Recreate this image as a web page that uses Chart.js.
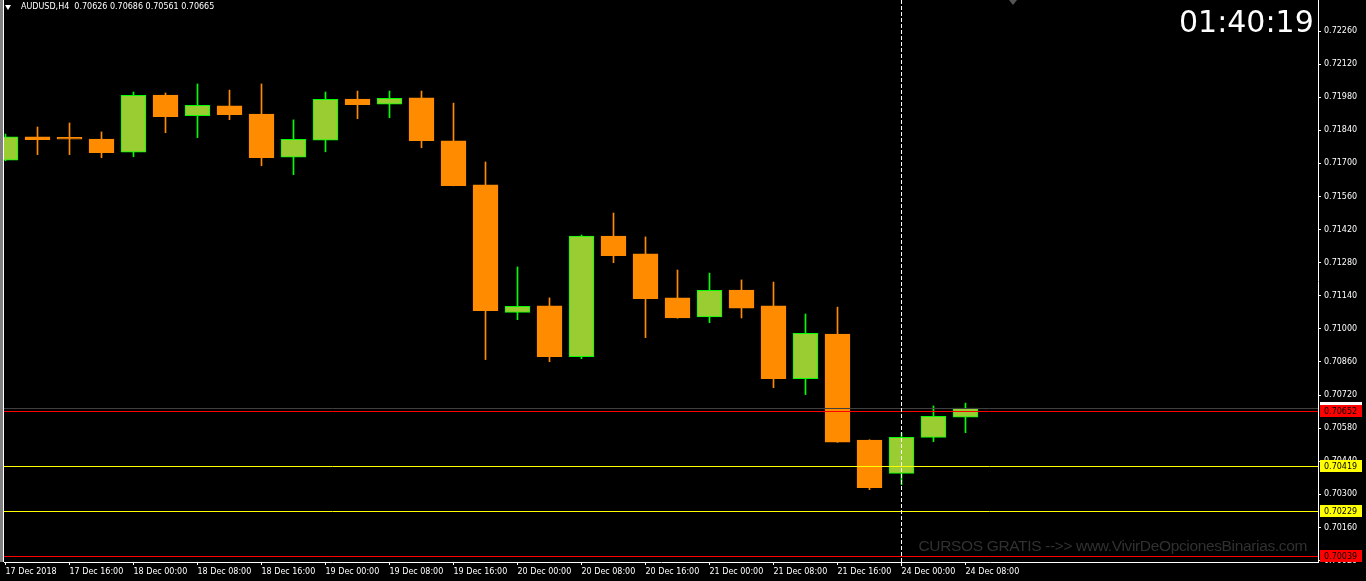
<!DOCTYPE html>
<html>
<head>
<meta charset="utf-8">
<script src="https://cdn.jsdelivr.net/npm/chart.js@4.4.0/dist/chart.umd.min.js"></script>
<style>
html, body { margin: 0; padding: 0; background: #000; overflow: hidden; }
#wrap { position: relative; width: 1366px; height: 581px; }
#chart { position: absolute; left: 0; top: 0; width: 1366px !important; height: 581px !important; }
#header { position: absolute; left: 21px; top: 3px; font: 8px "DejaVu Sans"; line-height: 8px; color: #fff; white-space: pre; }
#arrow { position: absolute; left: 5px; top: 5px; width: 0; height: 0;
  border-left: 3.5px solid transparent; border-right: 3.5px solid transparent; border-top: 5px solid #fff; }
#shift { position: absolute; left: 1009px; top: 0; width: 0; height: 0;
  border-left: 4px solid transparent; border-right: 4px solid transparent; border-top: 5px solid #555; }
#clock { position: absolute; left: 1179px; top: 7px; font: 30px "DejaVu Sans"; line-height: 30px; color: #fff; }
#mark { position: absolute; right: 59px; top: 537px; font: 15.5px "Liberation Sans"; letter-spacing: -0.35px;
  line-height: 18px; color: #313131; white-space: pre; }
</style>
</head>
<body>
<div id="wrap">
  <canvas id="chart"></canvas>
  <div id="arrow"></div>
  <div id="header"></div>
  <div id="shift"></div>
  <div id="clock">01:40:19</div>
  <div id="mark">CURSOS GRATIS --&gt;&gt; www.VivirDeOpcionesBinarias.com</div>
</div>
<script>
const SYMBOL = "AUDUSD,H4";
const TIME_LABELS = ["17 Dec 2018", "17 Dec 16:00", "18 Dec 00:00", "18 Dec 08:00", "18 Dec 16:00",
  "19 Dec 00:00", "19 Dec 08:00", "19 Dec 16:00", "20 Dec 00:00", "20 Dec 08:00", "20 Dec 16:00",
  "21 Dec 00:00", "21 Dec 08:00", "21 Dec 16:00", "24 Dec 00:00", "24 Dec 08:00"];
const TICK_INDEX = [0, 2, 4, 6, 8, 10, 12, 14, 16, 18, 20, 22, 24, 26, 28, 30];

const OPEN  = [0.71714, 0.71812, 0.71804, 0.71803, 0.71747, 0.71989, 0.71902, 0.71943, 0.71909, 0.71726,
  0.71798, 0.71972, 0.71950, 0.71977, 0.71795, 0.71609, 0.71070, 0.71097, 0.70882, 0.71393,
  0.71317, 0.71131, 0.71051, 0.71164, 0.71097, 0.70789, 0.70978, 0.70530, 0.70389, 0.70541, 0.70626];
const HIGH  = [0.71824, 0.71854, 0.71871, 0.71833, 0.72002, 0.71998, 0.72036, 0.72010, 0.72036, 0.71884,
  0.72002, 0.72006, 0.72006, 0.72006, 0.71955, 0.71706, 0.71262, 0.71131, 0.71397, 0.71490,
  0.71389, 0.71249, 0.71236, 0.71207, 0.71198, 0.71063, 0.71092, 0.70531, 0.70560, 0.70674, 0.70686];
const LOW   = [0.71711, 0.71737, 0.71737, 0.71724, 0.71728, 0.71830, 0.71809, 0.71885, 0.71690, 0.71652,
  0.71749, 0.71889, 0.71893, 0.71766, 0.71605, 0.70870, 0.71039, 0.70861, 0.70874, 0.71280,
  0.70963, 0.71045, 0.71026, 0.71046, 0.70751, 0.70722, 0.70520, 0.70320, 0.70341, 0.70523, 0.70561];
const CLOSE = [0.71812, 0.71800, 0.71802, 0.71745, 0.71988, 0.71898, 0.71946, 0.71906, 0.71724, 0.71802,
  0.71971, 0.71948, 0.71975, 0.71796, 0.71606, 0.71077, 0.71095, 0.70882, 0.71392, 0.71310,
  0.71128, 0.71046, 0.71163, 0.71088, 0.70789, 0.70981, 0.70521, 0.70328, 0.70541, 0.70630, 0.70665];

const PRICE_TICKS = [0.70020, 0.70160, 0.70300, 0.70440, 0.70580, 0.70720, 0.70860, 0.71000, 0.71140,
  0.71280, 0.71420, 0.71560, 0.71700, 0.71840, 0.71980, 0.72120, 0.72260];
const LEVELS = [0.70652, 0.70419, 0.70229, 0.70039];
const LEVEL_COLORS = ["#ff0000", "#ffff00", "#ffff00", "#ff0000"];
const BID = 0.70665;
const CURSOR_INDEX = 28;

const BULL = "#9acd32", BULL_EDGE = "#00ff00", BEAR = "#ff8c00";

const last = OPEN.length - 1;
document.getElementById("header").textContent = SYMBOL + "  " +
  [OPEN[last], HIGH[last], LOW[last], CLOSE[last]].map(v => v.toFixed(5)).join(" ");

const up = OPEN.map((o, i) => CLOSE[i] > o);

Chart.defaults.font.family = "DejaVu Sans";
Chart.defaults.font.size = 8;
Chart.defaults.color = "#fff";

// frame, level lines, cursor line and price boxes, MT4 style
const mt4Plugin = {
  id: "mt4",
  beforeDraw(chart) {
    const ctx = chart.ctx;
    ctx.save();
    ctx.fillStyle = "#000";
    ctx.fillRect(0, 0, chart.width, chart.height);
    ctx.fillStyle = "#808080";
    ctx.fillRect(0, 0, 3, chart.chartArea.bottom);
    ctx.fillStyle = "#fff";
    ctx.fillRect(3, 0, 1, chart.chartArea.bottom);
    ctx.restore();
  },
  afterDatasetsDraw(chart) {
    const ctx = chart.ctx, a = chart.chartArea;
    const ys = chart.scales.y, xs = chart.scales.x;
    ctx.save();
    ctx.lineWidth = 1;
    let y = Math.round(ys.getPixelForValue(BID)) + 0.5;
    ctx.strokeStyle = "#404040";
    ctx.beginPath(); ctx.moveTo(a.left, y); ctx.lineTo(a.right, y); ctx.stroke();
    LEVELS.forEach((v, i) => {
      const yy = Math.round(ys.getPixelForValue(v)) + 0.5;
      ctx.strokeStyle = LEVEL_COLORS[i];
      ctx.beginPath(); ctx.moveTo(a.left, yy); ctx.lineTo(a.right, yy); ctx.stroke();
    });
    const x = Math.floor(xs.getPixelForValue(CURSOR_INDEX)) + 0.5;
    ctx.strokeStyle = "#fff";
    ctx.setLineDash([4, 2]);
    ctx.beginPath(); ctx.moveTo(x, a.top); ctx.lineTo(x, a.bottom + 4); ctx.stroke();
    ctx.restore();
  },
  afterDraw(chart) {
    const ctx = chart.ctx, a = chart.chartArea, ys = chart.scales.y;
    ctx.save();
    let yb = Math.round(ys.getPixelForValue(BID));
    ctx.fillStyle = "#fff";
    ctx.fillRect(a.right + 2, yb - 6, 42, 12);
    ctx.font = "8px 'DejaVu Sans'";
    ctx.textBaseline = "middle";
    LEVELS.forEach((v, i) => {
      const yy = Math.round(ys.getPixelForValue(v));
      ctx.fillStyle = LEVEL_COLORS[i];
      ctx.fillRect(a.right + 2, yy - 6, 42, 12);
      ctx.fillStyle = "#000";
      ctx.fillText(v.toFixed(5), a.right + 6, yy + 0.5);
    });
    ctx.restore();
  }
};

new Chart(document.getElementById("chart"), {
  type: "bar",
  data: {
    datasets: [
      {
        label: "body",
        data: OPEN.map((o, i) => ({ x: i, y: [o, CLOSE[i]] })),
        backgroundColor: up.map(u => u ? BULL : BEAR),
        borderColor: up.map(u => u ? BULL_EDGE : BEAR),
        borderWidth: 1,
        borderSkipped: false,
        barThickness: 25,
        minBarLength: 2,
        grouped: false
      },
      {
        label: "wick",
        data: LOW.map((l, i) => ({ x: i, y: [l, HIGH[i]] })),
        backgroundColor: up.map(u => u ? BULL_EDGE : BEAR),
        borderWidth: 0,
        barThickness: 1,
        grouped: false
      }
    ]
  },
  options: {
    responsive: true,
    maintainAspectRatio: false,
    animation: false,
    layout: { padding: { left: 4, top: 0, right: 0, bottom: 0 } },
    plugins: { legend: { display: false }, tooltip: { enabled: false } },
    scales: {
      x: {
        type: "linear",
        position: "bottom",
        offset: false,
        min: -1.5 / 32,
        max: 1312.5 / 32,
        grid: { display: true, offset: false, drawOnChartArea: false, tickLength: 3, color: "#fff" },
        border: { color: "#fff", width: 1 },
        ticks: {
          autoSkip: false, maxRotation: 0, align: "start", padding: 2,
          callback: (v, i) => TIME_LABELS[i]
        },
        afterBuildTicks: s => { s.ticks = TICK_INDEX.map(v => ({ value: v })); },
        afterFit: s => { s.height = 19; s.paddingLeft = 0; s.paddingRight = 0; }
      },
      y: {
        type: "linear",
        position: "right",
        min: 0.72260 - 531 / 23640,
        max: 0.72260 + 31 / 23640,
        grid: { display: true, drawOnChartArea: false, tickLength: 3, color: "#fff" },
        border: { color: "#fff", width: 1 },
        ticks: { padding: 3, callback: v => v.toFixed(5) },
        afterBuildTicks: s => { s.ticks = PRICE_TICKS.map(v => ({ value: v })); },
        afterFit: s => { s.width = 48; s.paddingTop = 0; s.paddingBottom = 0; }
      }
    }
  },
  plugins: [mt4Plugin]
});
</script>
</body>
</html>
